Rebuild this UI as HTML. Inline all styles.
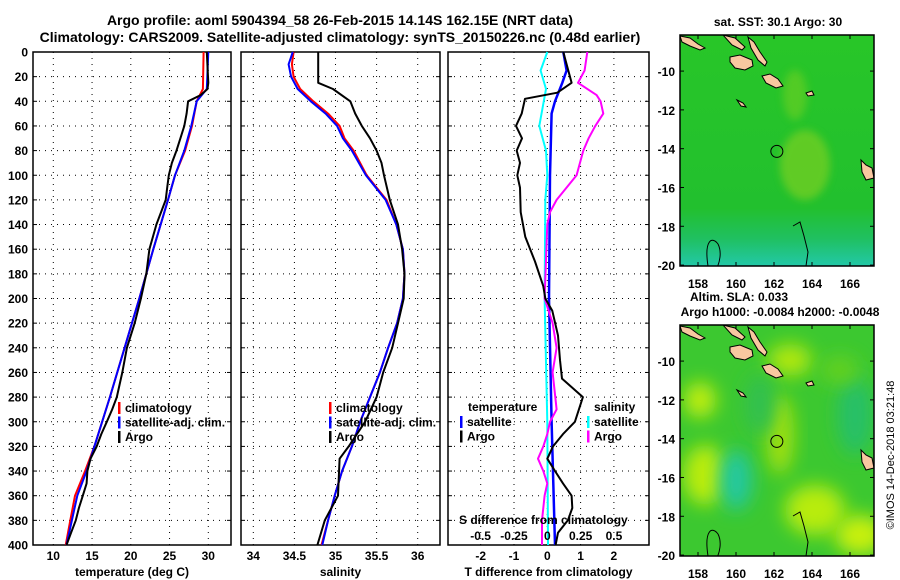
<!DOCTYPE html>
<html><head><meta charset="utf-8"><style>
html,body{margin:0;padding:0;background:#fff}
svg{display:block;font-family:"Liberation Sans",sans-serif;font-weight:bold}
</style></head><body>
<svg id="c" width="900" height="580" viewBox="0 0 900 580" xmlns="http://www.w3.org/2000/svg">
<defs>
<filter id="blur" x="-50%" y="-50%" width="200%" height="200%"><feGaussianBlur stdDeviation="9"/></filter>
<filter id="blur2" x="-50%" y="-50%" width="200%" height="200%"><feGaussianBlur stdDeviation="4"/></filter>
<clipPath id="clipTop"><rect x="680" y="35" width="194" height="231"/></clipPath>
<clipPath id="clipBot"><rect x="680" y="325" width="194" height="231"/></clipPath>
<linearGradient id="sstg" x1="0" y1="0" x2="0" y2="1">
<stop offset="0" stop-color="#28c628"/><stop offset="0.75" stop-color="#22c02e"/><stop offset="0.88" stop-color="#20c060"/><stop offset="1" stop-color="#22c8a8"/>
</linearGradient>
</defs>
<text x="340" y="25" text-anchor="middle" font-size="14">Argo profile: aoml 5904394_58 26-Feb-2015 14.14S 162.15E (NRT data)</text>
<text x="340" y="42" text-anchor="middle" font-size="14">Climatology: CARS2009. Satellite-adjusted climatology: synTS_20150226.nc (0.48d earlier)</text>
<g id="p1"></g>
<g id="p2"></g>
<g id="p3"></g>
<g id="maps"></g>
<text transform="translate(894,455) rotate(-90)" text-anchor="middle" font-size="11" font-weight="normal">©IMOS 14-Dec-2018 03:21:48</text>
</svg>
<script>
// ---- data ----
const tArgoD=[0,25,30,35,40,50,60,70,80,90,100,110,120,140,160,180,200,220,240,260,280,290,300,310,320,330,340,350,360,370,380,390,400];
const tArgoV=[29.8,30.0,29.9,29.0,27.4,27.2,26.9,26.4,25.9,25.3,24.9,24.7,24.5,23.3,22.4,22.0,21.3,20.5,19.5,18.9,18.2,17.6,16.9,16.2,15.6,14.8,14.4,14.3,13.8,13.3,12.9,12.3,11.7];
const tClimD=[0,30,40,60,80,100,120,160,200,240,280,320,340,360,380,400];
const tClimV=[29.4,29.3,28.5,27.9,27.0,25.7,24.8,22.9,21.1,19.2,17.3,15.3,14.1,12.8,12.2,11.6];
const tSatV=[30.0,29.8,28.5,27.8,26.9,25.7,24.8,22.9,21.1,19.2,17.3,15.3,14.3,13.1,12.4,11.7];
const sArgoD=[0,25,30,40,50,60,70,80,90,100,120,140,160,180,200,220,240,260,280,300,320,330,360,380,400];
const sArgoV=[34.79,34.79,34.97,35.18,35.24,35.32,35.42,35.50,35.56,35.59,35.66,35.76,35.81,35.84,35.83,35.76,35.69,35.58,35.50,35.36,35.16,35.05,35.03,34.87,34.78];
const sClimD=[0,10,20,30,40,50,60,70,80,100,120,140,160,180,200,220,240,260,280,300,320,340,360,380,400];
const sClimV=[34.49,34.47,34.49,34.57,34.73,34.91,35.05,35.11,35.22,35.38,35.62,35.74,35.82,35.84,35.82,35.75,35.64,35.54,35.42,35.30,35.20,35.08,34.99,34.91,34.83];
const sSatV=[34.48,34.43,34.46,34.54,34.70,34.88,35.02,35.09,35.20,35.37,35.61,35.74,35.82,35.84,35.82,35.75,35.64,35.54,35.42,35.30,35.20,35.08,34.99,34.91,34.84];
const dTD=[0,25,33,38,50,60,70,80,90,100,110,130,150,170,190,200,210,230,250,265,280,300,310,320,330,340,350,360,370,380,390,400];
const dTArgo=[0.48,0.73,0.3,-0.67,-0.77,-0.94,-0.76,-0.92,-0.82,-0.9,-0.82,-0.8,-0.66,-0.37,-0.12,-0.06,0.15,0.32,0.38,0.44,1.07,0.83,0.47,0.17,0.0,0.23,0.47,0.73,0.75,0.62,0.32,0.25];
const dTSD=[0,15,25,40,50,100,200,300,400];
const dTSat=[0.48,0.58,0.45,0.23,0.13,0.08,0.05,0.13,0.23];
const dSSD=[0,15,30,60,80,100,120,200,300,400];
const dSSat=[0,-0.05,-0.01,-0.06,-0.01,0,-0.015,-0.02,0,0.005];
const dSAD=[0,15,25,35,40,50,60,70,80,100,120,130,140,200,220,240,260,280,290,300,310,320,330,340,350,360,380,400];
const dSArgo=[0.30,0.28,0.23,0.37,0.40,0.42,0.36,0.31,0.27,0.22,0.07,0.02,0,-0.02,0.04,0.07,0.04,0.06,0.07,0.02,0,-0.03,-0.07,-0.03,0,-0.02,-0.04,-0.04];
const depthTicks=[0,20,40,60,80,100,120,140,160,180,200,220,240,260,280,300,320,340,360,380,400];
const tTicks=[10,15,20,25,30];
const sTicks=[34,34.5,35,35.5,36];
const dTTicks=[-2,-1,0,1,2];
const dSTicks=[-0.5,-0.25,0,0.25,0.5];
const latTicks=[-10,-12,-14,-16,-18,-20];
const lonTicks=[158,160,162,164,166];

const NS='http://www.w3.org/2000/svg';
function mk(tag,attrs,parent){const e=document.createElementNS(NS,tag);for(const k in attrs)e.setAttribute(k,attrs[k]);parent.appendChild(e);return e;}
const yD=d=>52+d*1.2325;
const TOP=52,BOT=545;

function panel(g,x0,x1,xf,ticks,tickLabel,xlabel,name){
  mk('rect',{x:x0,y:TOP,width:x1-x0,height:BOT-TOP,fill:'#fff',stroke:'#000','stroke-width':1.5},g);
  ticks.forEach(t=>{const x=xf(t);
    const l=mk('line',{x1:x,y1:TOP,x2:x,y2:BOT,stroke:'#000','stroke-width':1,'stroke-dasharray':'1,5'},g);
    
    
    if(tickLabel){const tx=mk('text',{x:x,y:560,'text-anchor':'middle','font-size':12},g);tx.textContent=tickLabel(t);
      
      }
  });
  depthTicks.forEach(d=>{const y=yD(d);
    if(d>0&&d<400){const l=mk('line',{x1:x0,y1:y,x2:x1,y2:y,stroke:'#000','stroke-width':1,'stroke-dasharray':'1,5'},g);
      
      }
    mk('line',{x1:x0,y1:y,x2:x0+4,y2:y,stroke:'#000'},g);
    mk('line',{x1:x1-4,y1:y,x2:x1,y2:y,stroke:'#000'},g);
  });
  const xl=mk('text',{x:(x0+x1)/2,y:576,'text-anchor':'middle','font-size':12},g);xl.textContent=xlabel;
  
  
}
function series(g,D,V,xf,color,w,name){
  const pts=D.map((d,i)=>xf(V[i]).toFixed(1)+','+yD(d).toFixed(1)).join(' ');
  const p=mk('polyline',{points:pts,fill:'none',stroke:color,'stroke-width':w,'stroke-linejoin':'round'},g);
  
  
}
function legend(g,x,y,items,name){
  items.forEach((it,i)=>{const yy=y+i*14.5;
    mk('rect',{x:x,y:yy-10,width:2.5,height:12,fill:it[1]},g);
    const t=mk('text',{x:x+7,y:yy,'font-size':12},g);t.textContent=it[0];
    
    
  });
}

// panel 1
const p1=document.getElementById('p1');
const xT=v=>53.3+(v-10)*7.75;
panel(p1,33,231,xT,tTicks,t=>String(t),'temperature (deg C)','temperature');
depthTicks.forEach(d=>{const t=mk('text',{x:28,y:yD(d)+4.5,'text-anchor':'end','font-size':12},p1);t.textContent=d;
  
  });
series(p1,tClimD,tClimV,xT,'#f00',2,'temperature-climatology-line');
series(p1,tClimD,tSatV,xT,'#00f',2,'temperature-satellite-line');
series(p1,tArgoD,tArgoV,xT,'#000',2,'temperature-argo-line');
legend(p1,118,412,[['climatology','#f00'],['satellite-adj. clim.','#00f'],['Argo','#000']],'temperature-legend');

// panel 2
const p2=document.getElementById('p2');
const xS=v=>253.3+(v-34)*82.2;
panel(p2,241,440,xS,sTicks,t=>String(t),'salinity','salinity');
series(p2,sClimD,sClimV,xS,'#f00',2,'salinity-climatology-line');
series(p2,sClimD,sSatV,xS,'#00f',2,'salinity-satellite-line');
series(p2,sArgoD,sArgoV,xS,'#000',2,'salinity-argo-line');
legend(p2,329,412,[['climatology','#f00'],['satellite-adj. clim.','#00f'],['Argo','#000']],'salinity-legend');

// panel 3
const p3=document.getElementById('p3');
const xDT=v=>547.3+v*33.3;
const xDS=v=>547.3+v*133.3;
panel(p3,448,649,xDT,dTTicks,t=>String(t),'T difference from climatology','difference');
series(p3,dSSD,dSSat,xDS,'#0ff',2,'salinity-diff-satellite-line');
series(p3,dTSD,dTSat,xDT,'#00f',2.5,'temperature-diff-satellite-line');
series(p3,dSAD,dSArgo,xDS,'#f0f',2,'salinity-diff-argo-line');
series(p3,dTD,dTArgo,xDT,'#000',2,'temperature-diff-argo-line');
const tl=mk('text',{x:468,y:411,'font-size':12},p3);tl.textContent='temperature';


legend(p3,460,426,[['satellite','#00f'],['Argo','#000']],'diff-temperature-legend');
const sl=mk('text',{x:594,y:411,'font-size':12},p3);sl.textContent='salinity';


legend(p3,587,426,[['satellite','#0ff'],['Argo','#f0f']],'diff-salinity-legend');
const st=mk('text',{x:459,y:524,'font-size':12},p3);st.textContent='S difference from climatology';


dSTicks.forEach(t=>{const tx=mk('text',{x:xDS(t),y:540,'text-anchor':'middle','font-size':12},p3);tx.textContent=String(t);
  
  });

// maps
const maps=document.getElementById('maps');
const lonX=l=>698+(l-158)*19;
const islands=[
 "680,36 690,38 698,44 705,48 700,50 690,46 682,42",
 "723,35 735,38 745,47 742,50 732,45",
 "748,37 754,42 760,52 767,62 765,66 758,60 751,48",
 "730,57 740,55 752,60 753,66 745,70 735,68 730,62",
 "762,76 770,74 778,79 783,86 776,88 766,83",
 "737,100 743,103 746,107 741,106",
 "861,160 866,165 872,168 874,178 866,180 862,172",
 "806,93 812,91 814,95 808,96"
];
function drawMap(y0,top,name){
  const g=mk('g',{'clip-path':top?'url(#clipTop)':'url(#clipBot)'},maps);
  
  
  const dy=y0-35;
  if(top){
    mk('rect',{x:680,y:y0,width:194,height:231,fill:'url(#sstg)'},g);
    mk('ellipse',{cx:805,cy:y0+130,rx:25,ry:35,fill:'#7ad020',opacity:0.7,filter:'url(#blur2)'},g);
    mk('ellipse',{cx:795,cy:y0+60,rx:12,ry:25,fill:'#70d020',opacity:0.6,filter:'url(#blur2)'},g);
  } else {
    mk('rect',{x:680,y:y0,width:194,height:231,fill:'#3cc830'},g);
    const blobs=[[705,150,22,30,'#b8ec10'],[700,75,16,18,'#c0ee10'],[736,155,16,30,'#20c8a0'],[790,35,22,16,'#b0e810'],[780,110,14,40,'#a0e010'],[815,185,30,25,'#b8ec10'],[860,210,25,20,'#c8f010'],[855,90,18,40,'#28c068'],[760,80,15,30,'#30c050'],[840,45,20,15,'#60d020']];
    blobs.forEach(b=>mk('ellipse',{cx:b[0],cy:y0+b[1],rx:b[2],ry:b[3],fill:b[4],filter:'url(#blur)'},g));
  }
  islands.forEach(p=>{const pts=p.split(' ').map(s=>{const a=s.split(',');return a[0]+','+(+a[1]+dy);}).join(' ');
    mk('polygon',{points:pts,fill:'#f8c8a0',stroke:'#000','stroke-width':1},g);});
  mk('path',{d:`M708 ${y0+266-35} C704 ${y0+240-35} 712 ${y0+236-35} 718 ${y0+244-35} C722 ${y0+252-35} 720 ${y0+262-35} 716 ${y0+270-35}`,fill:'none',stroke:'#000','stroke-width':1},g);
  mk('path',{d:`M793 ${y0+226-35} L800 ${y0+222-35} L804 ${y0+236-35} L808 ${y0+252-35} L806 ${y0+266-35}`,fill:'none',stroke:'#000','stroke-width':1},g);
  mk('rect',{x:680,y:y0,width:194,height:231,fill:'none',stroke:'#000','stroke-width':1.5},maps);
  const c=mk('circle',{cx:lonX(162.15),cy:y0+(14.14-8.14)*19.4,r:6,fill:'none',stroke:'#000','stroke-width':1},maps);
  
  
  latTicks.forEach(l=>{const y=y0+(-8.14-l)*19.4;
    mk('line',{x1:680,y1:y,x2:684,y2:y,stroke:'#000'},maps);
    mk('line',{x1:870,y1:y,x2:874,y2:y,stroke:'#000'},maps);
    const t=mk('text',{x:675,y:y+5,'text-anchor':'end','font-size':12},maps);t.textContent=l;
    
    });
  lonTicks.forEach(l=>{const x=lonX(l);
    mk('line',{x1:x,y1:y0,x2:x,y2:y0+4,stroke:'#000'},maps);
    mk('line',{x1:x,y1:y0+227,x2:x,y2:y0+231,stroke:'#000'},maps);
    const t=mk('text',{x:x,y:y0+253,'text-anchor':'middle','font-size':12},maps);t.textContent=l;
    
    });
}
drawMap(35,true,'sst-map');
drawMap(325,false,'sla-map');
[['sat. SST: 30.1 Argo: 30',778,26,'middle','sst-map-title'],['Altim. SLA: 0.033',690,301,'start','sla-map-title'],['Argo h1000: -0.0084 h2000: -0.0048',780,316,'middle','argo-height-title']].forEach(a=>{
  const t=mk('text',{x:a[1],y:a[2],'text-anchor':a[3],'font-size':12},maps);t.textContent=a[0];
  
  });
</script>
</body></html>
